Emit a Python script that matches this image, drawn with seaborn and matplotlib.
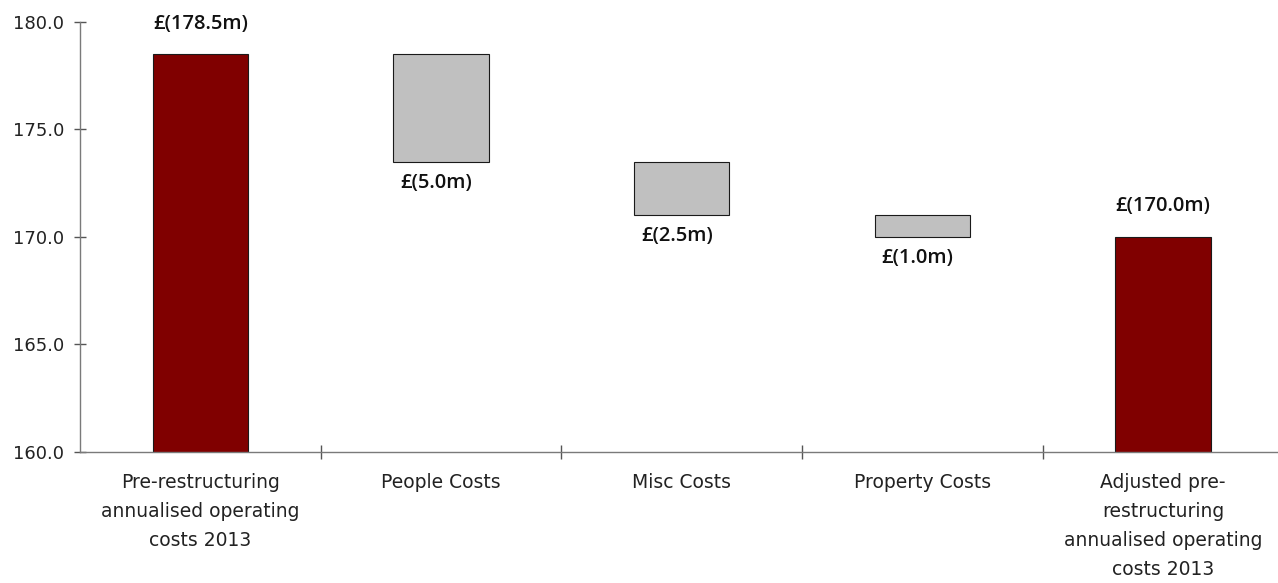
import matplotlib
matplotlib.use("Agg")
import matplotlib.pyplot as plt
import seaborn as sns
import pandas as pd
import numpy as np
from matplotlib.ticker import FixedLocator

# Waterfall of annualised operating costs (GBP m)
categories = [
    "Pre-restructuring\nannualised operating\ncosts 2013",
    "People Costs",
    "Misc Costs",
    "Property Costs",
    "Adjusted pre-\nrestructuring\nannualised operating\ncosts 2013",
]
changes = [178.5, -5.0, -2.5, -1.0, 170.0]
is_total = [True, False, False, False, True]
y_ticks = [160.0, 165.0, 170.0, 175.0, 180.0]

# Floating bar geometry derived from the running total
bottoms, heights, running = [], [], 0.0
for v, tot in zip(changes, is_total):
    if tot:
        bottoms.append(0.0)
        heights.append(v)
        running = v
    else:
        new = running + v
        bottoms.append(min(running, new))
        heights.append(abs(v))
        running = new

df = pd.DataFrame({"category": categories, "height": heights})

sns.set_theme(style="white")
plt.rcParams["font.family"] = ["DejaVu Sans"]

fig = plt.figure(figsize=(12.78, 5.83), dpi=100)
ax = fig.add_axes([0.0626, 0.2247, 0.9416, 0.7376])

sns.barplot(data=df, x="category", y="height", order=categories,
            bottom=bottoms, width=0.395, errorbar=None, ax=ax,
            edgecolor="#1a1a1a", linewidth=0.8, color="#c0c0c0")

for patch, tot in zip(ax.patches, is_total):
    patch.set_facecolor("#800000" if tot else "#c0c0c0")
    patch.set_edgecolor("#1a1a1a")

# Value labels: totals above, movements below
label_font = dict(fontsize=14.5, family=["Open Sans", "DejaVu Sans"],
                  fontweight="semibold", color="#111111")
for i, (v, tot, b, h) in enumerate(zip(changes, is_total, bottoms, heights)):
    label = f"£({abs(v):.1f}m)"
    if tot:
        ax.annotate(label, (i, b + h), xytext=(0, 22), textcoords="offset points",
                    ha="center", va="center", **label_font)
    else:
        ax.annotate(label, (i, b), xytext=(-3.5, -15), textcoords="offset points",
                    ha="center", va="center", **label_font)

ax.set_ylim(160, 180)
ax.set_xlim(-0.5, len(categories) - 0.5)
ax.set_yticks(y_ticks)
ax.set_yticklabels([f"{t:.1f}" for t in y_ticks])
ax.set_xlabel("")
ax.set_ylabel("")

for side in ["top", "right"]:
    ax.spines[side].set_visible(False)
for side in ["left", "bottom"]:
    ax.spines[side].set_color("#7a7a7a")
    ax.spines[side].set_linewidth(1.0)

ax.tick_params(axis="y", which="major", direction="inout", length=9,
               width=1.0, color="#555555", pad=7, labelsize=13,
               labelcolor="#222222", left=True)
ax.xaxis.set_minor_locator(FixedLocator(np.arange(0.5, len(categories) - 0.5, 1.0)))
ax.tick_params(axis="x", which="minor", direction="inout", length=10,
               width=1.0, color="#555555", bottom=True)
ax.tick_params(axis="x", which="major", length=0, pad=15, labelsize=13.5,
               labelcolor="#222222")
for lbl in ax.get_xticklabels():
    lbl.set_linespacing(1.68)
    lbl.set_ha("center")
    lbl.set_va("top")

fig.savefig("out.png", dpi=100)
